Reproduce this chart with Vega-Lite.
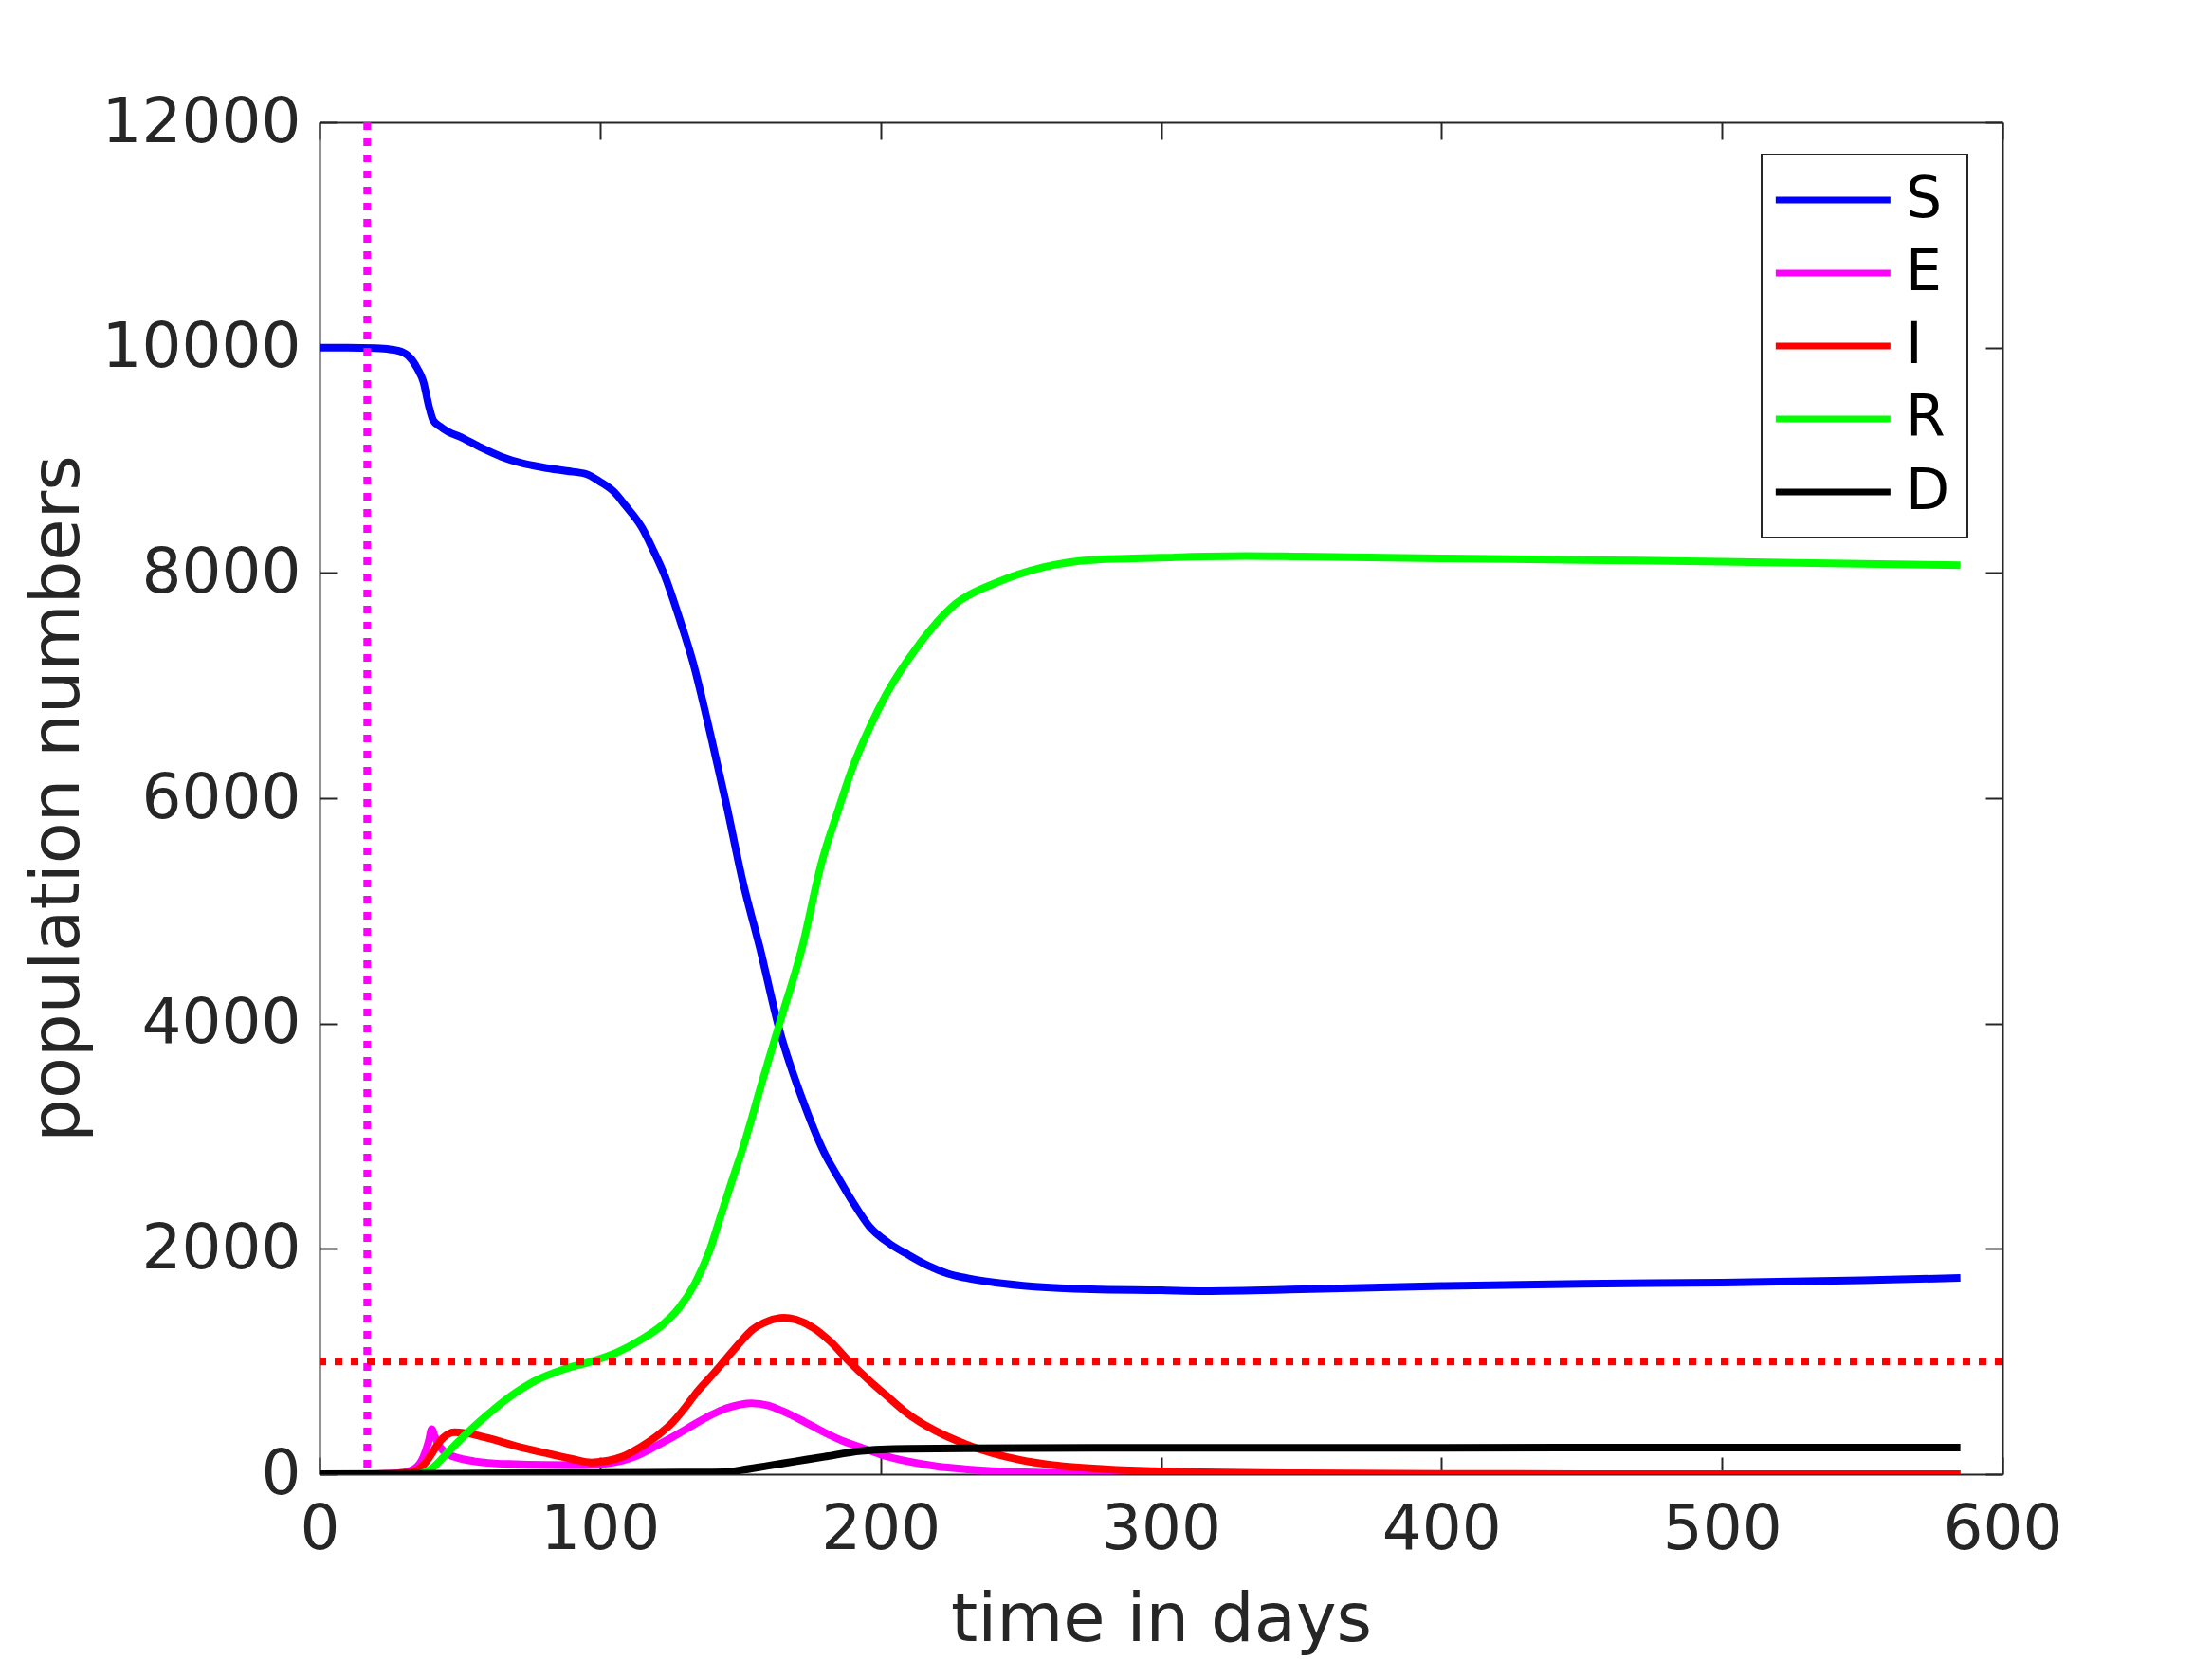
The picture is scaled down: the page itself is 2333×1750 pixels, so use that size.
{
  "$schema": "https://vega.github.io/schema/vega-lite/v6.json",
  "width": 1775,
  "height": 1426,
  "autosize": "none",
  "padding": {"left": 337, "top": 129, "right": 221, "bottom": 195},
  "background": "white",
  "config": {
    "view": {"stroke": null},
    "font": "DejaVu Sans",
    "axis": {
      "grid": false,
      "labelFlush": false,
      "labelOverlap": false,
      "labelLimit": 0,
      "format": "d",
      "labelFont": "DejaVu Sans",
      "labelFontSize": 66,
      "labelColor": "#262626",
      "titleFont": "DejaVu Sans",
      "titleFontSize": 72,
      "titleFontWeight": "normal",
      "titleColor": "#262626",
      "domainColor": "#262626",
      "domainWidth": 2,
      "tickColor": "#262626",
      "tickWidth": 2,
      "tickSize": -18
    },
    "legend": {
      "orient": "none",
      "legendX": 1521,
      "legendY": 34,
      "title": null,
      "strokeColor": "#262626",
      "strokeWidth": 2,
      "fillColor": "white",
      "padding": 18,
      "labelFont": "DejaVu Sans",
      "labelFontSize": 60,
      "labelColor": "#000000",
      "symbolType": "M-1,0H5",
      "symbolSize": 1627,
      "symbolStrokeWidth": 7,
      "symbolOffset": -13,
      "labelOffset": 87,
      "rowPadding": 17
    }
  },
  "layer": [
    {
      "data": {
        "values": [
          {"t": 0, "v": 10000, "c": "S"}, {"t": 10, "v": 10000, "c": "S"}, {"t": 20, "v": 9995, "c": "S"},
          {"t": 25, "v": 9985, "c": "S"}, {"t": 30, "v": 9955, "c": "S"}, {"t": 33, "v": 9890, "c": "S"},
          {"t": 35, "v": 9810, "c": "S"}, {"t": 37, "v": 9700, "c": "S"}, {"t": 39, "v": 9480, "c": "S"},
          {"t": 40.5, "v": 9355, "c": "S"}, {"t": 43, "v": 9300, "c": "S"}, {"t": 46, "v": 9250, "c": "S"},
          {"t": 50, "v": 9210, "c": "S"}, {"t": 57, "v": 9120, "c": "S"}, {"t": 65, "v": 9030, "c": "S"},
          {"t": 72, "v": 8975, "c": "S"}, {"t": 80, "v": 8935, "c": "S"}, {"t": 88, "v": 8905, "c": "S"},
          {"t": 95, "v": 8878, "c": "S"}, {"t": 100, "v": 8810, "c": "S"}, {"t": 105, "v": 8720, "c": "S"},
          {"t": 109, "v": 8600, "c": "S"}, {"t": 115, "v": 8400, "c": "S"}, {"t": 119, "v": 8200, "c": "S"},
          {"t": 123, "v": 7980, "c": "S"}, {"t": 128, "v": 7620, "c": "S"}, {"t": 133, "v": 7220, "c": "S"},
          {"t": 140, "v": 6500, "c": "S"}, {"t": 145, "v": 5950, "c": "S"}, {"t": 151, "v": 5250, "c": "S"},
          {"t": 157, "v": 4670, "c": "S"}, {"t": 164, "v": 3940, "c": "S"}, {"t": 173, "v": 3270, "c": "S"},
          {"t": 180, "v": 2850, "c": "S"}, {"t": 185, "v": 2630, "c": "S"}, {"t": 190, "v": 2420, "c": "S"},
          {"t": 196, "v": 2200, "c": "S"}, {"t": 203, "v": 2050, "c": "S"}, {"t": 210, "v": 1945, "c": "S"},
          {"t": 217, "v": 1850, "c": "S"}, {"t": 224, "v": 1780, "c": "S"}, {"t": 232, "v": 1735, "c": "S"},
          {"t": 241, "v": 1700, "c": "S"}, {"t": 255, "v": 1665, "c": "S"}, {"t": 275, "v": 1641, "c": "S"},
          {"t": 300, "v": 1632, "c": "S"}, {"t": 315, "v": 1625, "c": "S"}, {"t": 350, "v": 1640, "c": "S"},
          {"t": 400, "v": 1670, "c": "S"}, {"t": 450, "v": 1690, "c": "S"}, {"t": 500, "v": 1700, "c": "S"},
          {"t": 550, "v": 1720, "c": "S"}, {"t": 585, "v": 1742, "c": "S"},

          {"t": 0, "v": 0, "c": "E"}, {"t": 20, "v": 1, "c": "E"}, {"t": 25, "v": 4, "c": "E"},
          {"t": 30, "v": 15, "c": "E"}, {"t": 34, "v": 50, "c": "E"}, {"t": 37, "v": 150, "c": "E"},
          {"t": 39, "v": 300, "c": "E"}, {"t": 40, "v": 400, "c": "E"}, {"t": 41, "v": 340, "c": "E"},
          {"t": 43, "v": 240, "c": "E"}, {"t": 46, "v": 175, "c": "E"}, {"t": 50, "v": 140, "c": "E"},
          {"t": 55, "v": 115, "c": "E"}, {"t": 60, "v": 100, "c": "E"}, {"t": 70, "v": 88, "c": "E"},
          {"t": 80, "v": 82, "c": "E"}, {"t": 90, "v": 80, "c": "E"}, {"t": 100, "v": 88, "c": "E"},
          {"t": 105, "v": 105, "c": "E"}, {"t": 110, "v": 135, "c": "E"}, {"t": 115, "v": 185, "c": "E"},
          {"t": 120, "v": 250, "c": "E"}, {"t": 128, "v": 360, "c": "E"}, {"t": 135, "v": 463, "c": "E"},
          {"t": 140, "v": 530, "c": "E"}, {"t": 145, "v": 585, "c": "E"}, {"t": 150, "v": 618, "c": "E"},
          {"t": 154, "v": 630, "c": "E"}, {"t": 160, "v": 610, "c": "E"}, {"t": 166, "v": 550, "c": "E"},
          {"t": 173, "v": 463, "c": "E"}, {"t": 180, "v": 370, "c": "E"}, {"t": 187, "v": 290, "c": "E"},
          {"t": 193, "v": 238, "c": "E"}, {"t": 200, "v": 175, "c": "E"}, {"t": 210, "v": 112, "c": "E"},
          {"t": 220, "v": 70, "c": "E"}, {"t": 230, "v": 45, "c": "E"}, {"t": 240, "v": 28, "c": "E"},
          {"t": 260, "v": 12, "c": "E"}, {"t": 280, "v": 5, "c": "E"}, {"t": 300, "v": 2, "c": "E"},
          {"t": 350, "v": 0, "c": "E"}, {"t": 585, "v": 0, "c": "E"},

          {"t": 0, "v": 0, "c": "I"}, {"t": 20, "v": 1, "c": "I"}, {"t": 25, "v": 2, "c": "I"},
          {"t": 30, "v": 8, "c": "I"}, {"t": 35, "v": 40, "c": "I"}, {"t": 38, "v": 110, "c": "I"},
          {"t": 40, "v": 180, "c": "I"}, {"t": 42, "v": 260, "c": "I"}, {"t": 44, "v": 320, "c": "I"},
          {"t": 46, "v": 358, "c": "I"}, {"t": 48, "v": 372, "c": "I"}, {"t": 52, "v": 365, "c": "I"},
          {"t": 60, "v": 320, "c": "I"}, {"t": 70, "v": 250, "c": "I"}, {"t": 80, "v": 190, "c": "I"},
          {"t": 90, "v": 135, "c": "I"}, {"t": 97, "v": 104, "c": "I"}, {"t": 103, "v": 120, "c": "I"},
          {"t": 108, "v": 155, "c": "I"}, {"t": 115, "v": 250, "c": "I"}, {"t": 121, "v": 353, "c": "I"},
          {"t": 126, "v": 463, "c": "I"}, {"t": 130, "v": 580, "c": "I"}, {"t": 135, "v": 743, "c": "I"},
          {"t": 140, "v": 880, "c": "I"}, {"t": 144, "v": 996, "c": "I"}, {"t": 150, "v": 1170, "c": "I"},
          {"t": 154, "v": 1276, "c": "I"}, {"t": 160, "v": 1360, "c": "I"}, {"t": 165.5, "v": 1389, "c": "I"},
          {"t": 170, "v": 1370, "c": "I"}, {"t": 176, "v": 1300, "c": "I"}, {"t": 182, "v": 1180, "c": "I"},
          {"t": 189, "v": 996, "c": "I"}, {"t": 196, "v": 830, "c": "I"}, {"t": 202, "v": 700, "c": "I"},
          {"t": 208, "v": 570, "c": "I"}, {"t": 214, "v": 463, "c": "I"}, {"t": 220, "v": 380, "c": "I"},
          {"t": 230, "v": 270, "c": "I"}, {"t": 240, "v": 185, "c": "I"}, {"t": 250, "v": 125, "c": "I"},
          {"t": 260, "v": 85, "c": "I"}, {"t": 280, "v": 45, "c": "I"}, {"t": 300, "v": 25, "c": "I"},
          {"t": 350, "v": 8, "c": "I"}, {"t": 400, "v": 3, "c": "I"}, {"t": 450, "v": 1, "c": "I"},
          {"t": 585, "v": 0, "c": "I"},

          {"t": 0, "v": 0, "c": "R"}, {"t": 35, "v": 0, "c": "R"}, {"t": 37, "v": 10, "c": "R"},
          {"t": 40, "v": 50, "c": "R"}, {"t": 43, "v": 120, "c": "R"}, {"t": 46, "v": 200, "c": "R"},
          {"t": 52, "v": 350, "c": "R"}, {"t": 60, "v": 530, "c": "R"}, {"t": 68, "v": 690, "c": "R"},
          {"t": 77, "v": 830, "c": "R"}, {"t": 87, "v": 930, "c": "R"}, {"t": 97, "v": 1000, "c": "R"},
          {"t": 106, "v": 1080, "c": "R"}, {"t": 115, "v": 1200, "c": "R"}, {"t": 122, "v": 1320, "c": "R"},
          {"t": 128, "v": 1470, "c": "R"}, {"t": 134, "v": 1700, "c": "R"}, {"t": 139, "v": 1980, "c": "R"},
          {"t": 143, "v": 2290, "c": "R"}, {"t": 147, "v": 2600, "c": "R"}, {"t": 151, "v": 2900, "c": "R"},
          {"t": 158, "v": 3500, "c": "R"}, {"t": 164, "v": 4000, "c": "R"}, {"t": 172, "v": 4670, "c": "R"},
          {"t": 179, "v": 5430, "c": "R"}, {"t": 185, "v": 5900, "c": "R"}, {"t": 190, "v": 6270, "c": "R"},
          {"t": 196, "v": 6620, "c": "R"}, {"t": 202, "v": 6920, "c": "R"}, {"t": 213, "v": 7340, "c": "R"},
          {"t": 227, "v": 7730, "c": "R"}, {"t": 241, "v": 7910, "c": "R"}, {"t": 258, "v": 8050, "c": "R"},
          {"t": 275, "v": 8115, "c": "R"}, {"t": 300, "v": 8135, "c": "R"}, {"t": 330, "v": 8150, "c": "R"},
          {"t": 350, "v": 8145, "c": "R"}, {"t": 400, "v": 8130, "c": "R"}, {"t": 450, "v": 8115, "c": "R"},
          {"t": 500, "v": 8100, "c": "R"}, {"t": 550, "v": 8080, "c": "R"}, {"t": 585, "v": 8068, "c": "R"},

          {"t": 0, "v": 0, "c": "D"}, {"t": 50, "v": 5, "c": "D"}, {"t": 100, "v": 10, "c": "D"},
          {"t": 130, "v": 14, "c": "D"}, {"t": 145, "v": 18, "c": "D"}, {"t": 150, "v": 35, "c": "D"},
          {"t": 160, "v": 75, "c": "D"}, {"t": 170, "v": 115, "c": "D"}, {"t": 180, "v": 155, "c": "D"},
          {"t": 193, "v": 205, "c": "D"}, {"t": 200, "v": 218, "c": "D"}, {"t": 210, "v": 226, "c": "D"},
          {"t": 250, "v": 232, "c": "D"}, {"t": 300, "v": 234, "c": "D"}, {"t": 585, "v": 235, "c": "D"}
        ]
      },
      "mark": {"type": "line", "strokeWidth": 8, "interpolate": "monotone", "clip": true},
      "encoding": {
        "x": {
          "field": "t",
          "type": "quantitative",
          "scale": {"domain": [0, 600], "nice": false},
          "axis": {
            "orient": "bottom",
            "values": [0, 100, 200, 300, 400, 500, 600],
            "labelPadding": 44,
            "title": "time in days",
            "titlePadding": 27
          }
        },
        "y": {
          "field": "v",
          "type": "quantitative",
          "scale": {"domain": [0, 12000], "nice": false},
          "axis": {
            "orient": "left",
            "values": [0, 2000, 4000, 6000, 8000, 10000, 12000],
            "labelPadding": 38,
            "title": "population numbers",
            "titlePadding": 40
          }
        },
        "color": {
          "field": "c",
          "type": "nominal",
          "scale": {
            "domain": ["S", "E", "I", "R", "D"],
            "range": ["#0000ff", "#ff00ff", "#ff0000", "#00ff00", "#000000"]
          }
        }
      }
    },
    {
      "data": {"values": [{"t": 17}]},
      "mark": {"type": "rule", "color": "#ff00ff", "strokeWidth": 8, "strokeDash": [8, 9]},
      "encoding": {
        "x": {
          "field": "t",
          "type": "quantitative",
          "scale": {"domain": [0, 600], "nice": false},
          "axis": {
            "orient": "top",
            "values": [0, 100, 200, 300, 400, 500, 600],
            "labels": false,
            "title": null
          }
        }
      }
    },
    {
      "data": {"values": [{"v": 1000}]},
      "mark": {"type": "rule", "color": "#ff0000", "strokeWidth": 8, "strokeDash": [8, 9]},
      "encoding": {
        "y": {
          "field": "v",
          "type": "quantitative",
          "scale": {"domain": [0, 12000], "nice": false},
          "axis": {
            "orient": "right",
            "values": [0, 2000, 4000, 6000, 8000, 10000, 12000],
            "labels": false,
            "title": null
          }
        }
      }
    }
  ],
  "resolve": {"axis": {"x": "independent", "y": "independent"}}
}
